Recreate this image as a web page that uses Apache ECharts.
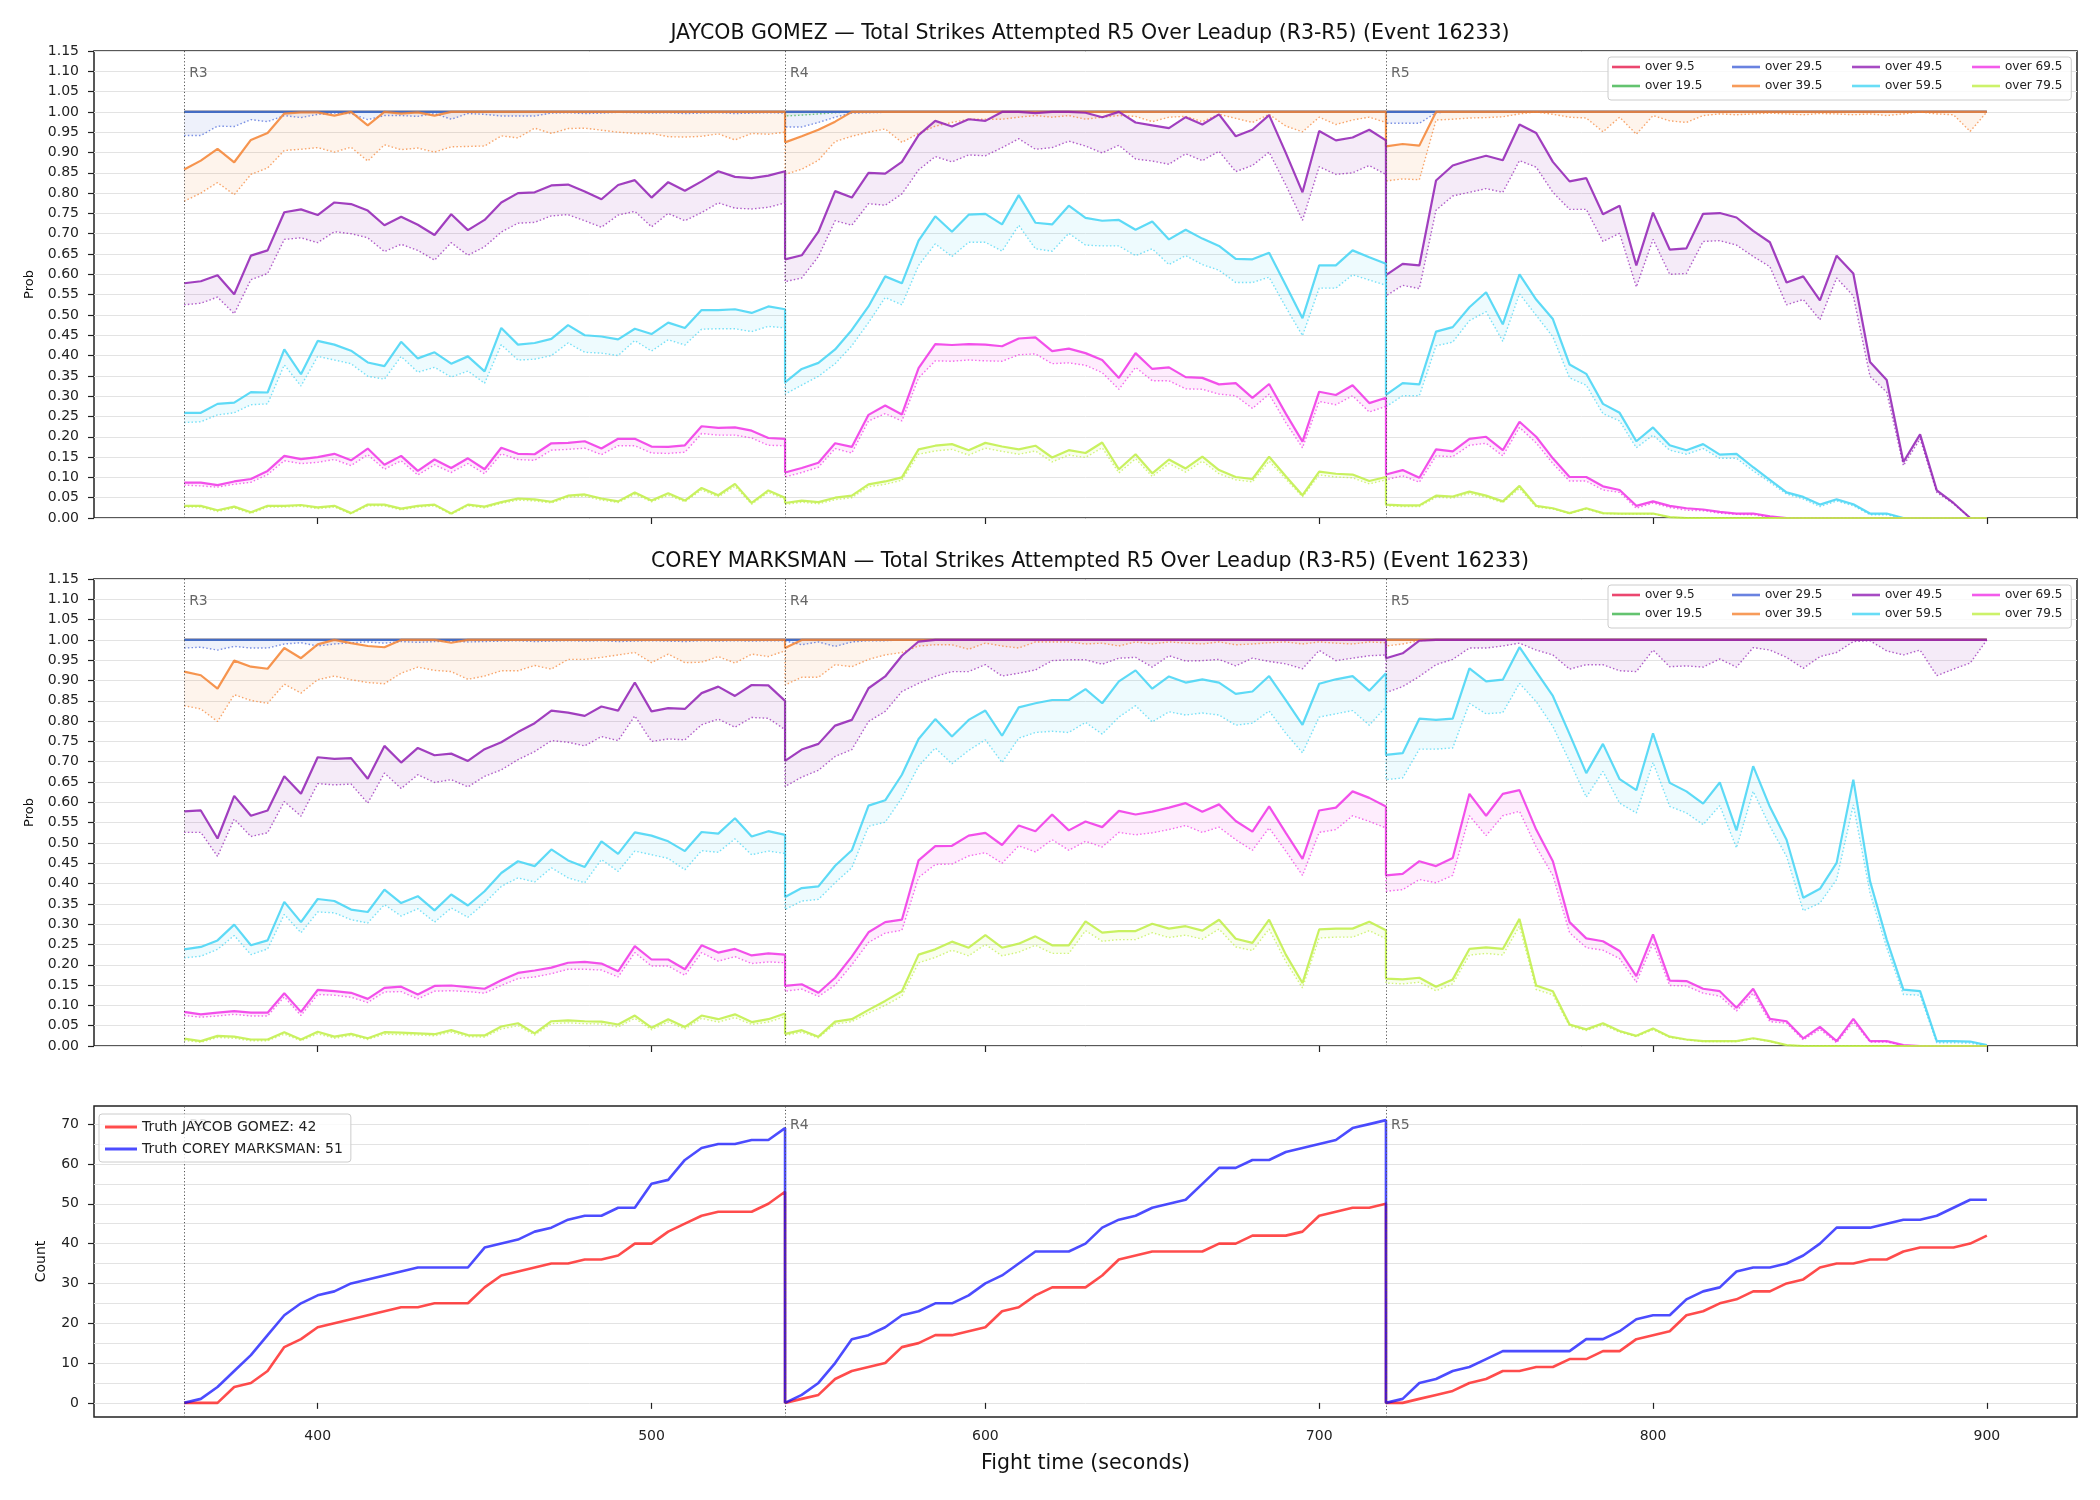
<!DOCTYPE html>
<html><head><meta charset="utf-8">
<script src="https://cdn.jsdelivr.net/npm/echarts@6/dist/echarts.min.js"></script>
<style>html,body{margin:0;padding:0;background:#fff}#c{width:2100px;height:1500px}</style>
</head><body><div id="c"></div><script>
// ---------------- DATA ----------------
const T_R3 = [360,365,370,375,380,385,390,395,400,405,410,415,420,425,430,435,440,445,450,455,460,465,470,475,480,485,490,495,500,505,510,515,520,525,530,535,540];
const T_R4 = [540,545,550,555,560,565,570,575,580,585,590,595,600,605,610,615,620,625,630,635,640,645,650,655,660,665,670,675,680,685,690,695,700,705,710,715,720];
const T_R5 = [720,725,730,735,740,745,750,755,760,765,770,775,780,785,790,795,800,805,810,815,820,825,830,835,840,845,850,855,860,865,870,875,880,885,890,895,900];
const TIME = [...T_R3, ...T_R4, ...T_R5];
const ROUND_STARTS = [360, 540, 720];
const ROUND_LABELS = ['R3', 'R4', 'R5'];
const X_TICKS = [400, 500, 600, 700, 800, 900];
const COUNT_TICKS = [0, 10, 20, 30, 40, 50, 60, 70];
const COUNT_GRID = [0, 5, 10, 15, 20, 25, 30, 35, 40, 45, 50, 55, 60, 65, 70];
const THRESHOLDS = ['over 9.5','over 19.5','over 29.5','over 39.5','over 49.5','over 59.5','over 69.5','over 79.5'];
const ONES = [1,1,1,1,1, 1,1,1,1,1, 1,1,1,1,1, 1,1,1,1,1, 1,1,1,1,1, 1,1,1,1,1, 1,1,1,1,1, 1,1];

// ---- JAYCOB GOMEZ ----
const gomez_over9_solid = [...ONES, ...ONES, ...ONES];
const gomez_over9_lower = [...ONES, ...ONES, ...ONES];
const gomez_over19_solid = [...ONES, ...ONES, ...ONES];
const gomez_over19_lower = [...ONES, 0.990,0.992,0.995,0.998, ...ONES.slice(4), ...ONES];
const gomez_over29_solid = [...ONES, ...ONES, ...ONES];
const gomez_over29_lower = [
  0.942,0.942,0.965,0.964,0.981, 0.976,0.991,0.986,0.994,0.997, 0.996,0.981,0.991,0.991,0.989, 0.996,0.982,0.996,0.994,0.990, 0.990,0.990,0.997,0.998,0.996, 0.997,0.999,0.998,0.997,0.998, 0.996,0.997,0.998,0.996,0.997, 0.998,0.997,
  0.963,0.963,0.974,0.987,0.997,0.998,0.999,0.999, ...ONES.slice(8),
  0.972,0.972,0.972,0.998, ...ONES.slice(4)];
const gomez_over39_solid = [
  0.858,0.880,0.909,0.876,0.931, 0.948,0.996,0.999,0.999,0.991, 1,0.967,1,0.996,0.999, 0.991, ...ONES.slice(16),
  0.925,0.940,0.956,0.976, ...ONES.slice(4),
  0.915,0.921,0.917, ...ONES.slice(3)];
const gomez_over39_lower = [
  0.780,0.800,0.826,0.796,0.846, 0.862,0.905,0.908,0.912,0.901, 0.913,0.879,0.919,0.907,0.911, 0.901,0.914,0.915,0.916,0.941, 0.936,0.960,0.947,0.959,0.960, 0.955,0.950,0.947,0.947,0.939, 0.938,0.940,0.946,0.931,0.947, 0.945,0.950,
  0.846,0.859,0.881,0.927,0.940, 0.950,0.958,0.925,0.947,0.965, 0.974,0.982,0.982,0.982,0.987, 0.991,0.987,0.991,0.982,0.987, 0.991,0.989,0.976,0.987,0.989, 0.976,0.994,0.984,0.974,0.994, 0.965,0.951,0.987,0.969,0.980, 0.987,0.974,
  0.830,0.835,0.833,0.980,0.982, 0.985,0.986,0.988,0.995,1, 0.994,0.987,0.985,0.951,0.987, 0.945,0.991,0.978,0.974,0.991, 0.995,0.993,0.995,0.997,0.995, 0.993,0.996,0.995,0.993,0.995, 0.991,0.995,1,0.995,0.993, 0.952,1];
const gomez_over49_solid = [
  0.578,0.583,0.598,0.551,0.646, 0.659,0.753,0.760,0.746,0.777, 0.773,0.757,0.721,0.742,0.722, 0.697,0.748,0.709,0.734,0.777, 0.800,0.802,0.819,0.821,0.804, 0.785,0.820,0.832,0.789,0.827, 0.806,0.829,0.854,0.840,0.837, 0.843,0.854,
  0.637,0.647,0.705,0.805,0.789, 0.850,0.848,0.877,0.943,0.978, 0.964,0.982,0.978,1,1, 0.997,1,1,0.998,0.987, 1,0.974,0.967,0.960,0.987, 0.969,0.994,0.940,0.956,0.992, 0.899,0.802,0.953,0.930,0.937, 0.956,0.930,
  0.598,0.626,0.622,0.831,0.868, 0.881,0.892,0.881,0.969,0.948, 0.877,0.829,0.837,0.748,0.769, 0.622,0.752,0.661,0.664,0.749, 0.751,0.740,0.707,0.679,0.580, 0.595,0.536,0.646,0.602,0.384, 0.340,0.138,0.206,0.068,0.037, 0,0];
const gomez_over49_lower = [
  0.525,0.529,0.544,0.503,0.587, 0.602,0.686,0.690,0.678,0.705, 0.700,0.690,0.656,0.674,0.659, 0.635,0.678,0.647,0.668,0.704, 0.726,0.728,0.744,0.747,0.732, 0.716,0.746,0.755,0.717,0.750, 0.732,0.752,0.776,0.763,0.761, 0.765,0.776,
  0.582,0.591,0.644,0.732,0.721, 0.774,0.770,0.798,0.857,0.890, 0.877,0.894,0.892,0.912,0.934, 0.908,0.912,0.928,0.916,0.899, 0.918,0.884,0.879,0.871,0.897, 0.880,0.903,0.853,0.868,0.901, 0.820,0.733,0.865,0.846,0.850, 0.868,0.846,
  0.547,0.573,0.565,0.758,0.793, 0.802,0.811,0.802,0.880,0.864, 0.802,0.760,0.760,0.681,0.701, 0.569,0.686,0.600,0.602,0.681, 0.683,0.672,0.644,0.619,0.525, 0.538,0.488,0.591,0.547,0.349, 0.310,0.129,0.195,0.063,0.035, 0,0];
const gomez_over59_solid = [
  0.259,0.259,0.281,0.284,0.310, 0.309,0.415,0.354,0.436,0.427, 0.412,0.383,0.374,0.434,0.393, 0.408,0.380,0.398,0.361,0.468, 0.427,0.431,0.441,0.475,0.450, 0.447,0.440,0.466,0.453,0.481, 0.468,0.512,0.512,0.514,0.505, 0.521,0.514,
  0.334,0.367,0.382,0.415,0.463, 0.521,0.595,0.578,0.683,0.743, 0.705,0.747,0.749,0.723,0.795, 0.727,0.723,0.769,0.739,0.732, 0.734,0.710,0.730,0.686,0.710, 0.688,0.670,0.638,0.637,0.653, 0.573,0.492,0.622,0.622,0.659, 0.642,0.626,
  0.303,0.332,0.329,0.459,0.470, 0.519,0.556,0.477,0.600,0.538, 0.490,0.378,0.355,0.281,0.259, 0.189,0.223,0.179,0.167,0.182, 0.156,0.158,0.125,0.094,0.063, 0.052,0.033,0.046,0.034,0.011, 0.011,0,0,0,0, 0,0];
const gomez_over59_lower = [
  0.235,0.237,0.254,0.259,0.279, 0.281,0.377,0.325,0.398,0.389, 0.380,0.349,0.342,0.398,0.359, 0.371,0.347,0.362,0.332,0.427, 0.389,0.391,0.400,0.431,0.408, 0.406,0.400,0.437,0.411,0.439, 0.426,0.465,0.466,0.466,0.459, 0.472,0.468,
  0.305,0.327,0.349,0.380,0.424, 0.481,0.543,0.525,0.622,0.675, 0.644,0.679,0.679,0.657,0.721, 0.663,0.657,0.701,0.672,0.670, 0.670,0.646,0.663,0.624,0.646, 0.624,0.610,0.580,0.580,0.593, 0.519,0.449,0.566,0.566,0.599, 0.586,0.573,
  0.274,0.301,0.301,0.424,0.433, 0.486,0.508,0.435,0.552,0.499, 0.446,0.345,0.327,0.257,0.239, 0.173,0.204,0.167,0.157,0.171, 0.147,0.147,0.116,0.088,0.059, 0.047,0.028,0.042,0.030,0.008, 0.008,0,0,0,0, 0,0];
const gomez_over69_solid = [
  0.087,0.087,0.081,0.090,0.096, 0.116,0.153,0.145,0.150,0.158, 0.142,0.171,0.131,0.153,0.116, 0.144,0.123,0.147,0.120,0.173, 0.158,0.157,0.184,0.185,0.189, 0.171,0.195,0.195,0.176,0.175, 0.179,0.226,0.222,0.223,0.215, 0.197,0.195,
  0.112,0.123,0.136,0.184,0.175, 0.254,0.277,0.255,0.369,0.428, 0.426,0.428,0.427,0.423,0.442, 0.445,0.411,0.417,0.406,0.389, 0.345,0.406,0.367,0.371,0.347, 0.345,0.329,0.332,0.296,0.330, 0.257,0.188,0.311,0.303,0.327, 0.283,0.296,
  0.107,0.118,0.099,0.169,0.164, 0.195,0.200,0.167,0.237,0.200, 0.147,0.101,0.101,0.078,0.069, 0.030,0.041,0.030,0.024,0.021, 0.015,0.011,0.011,0.004,0, 0,0,0,0,0, 0,0,0,0,0, 0,0];
const gomez_over69_lower = [
  0.081,0.079,0.076,0.083,0.088, 0.107,0.141,0.134,0.137,0.144, 0.129,0.156,0.120,0.141,0.106, 0.131,0.112,0.134,0.109,0.158, 0.144,0.142,0.167,0.169,0.172, 0.156,0.178,0.178,0.160,0.159, 0.162,0.208,0.204,0.204,0.197, 0.179,0.178,
  0.101,0.112,0.125,0.171,0.160, 0.239,0.257,0.239,0.345,0.387, 0.386,0.389,0.387,0.386,0.402, 0.404,0.380,0.382,0.376,0.358, 0.317,0.371,0.338,0.338,0.318, 0.317,0.305,0.301,0.270,0.305, 0.235,0.173,0.287,0.279,0.301, 0.261,0.275,
  0.094,0.104,0.088,0.153,0.151, 0.179,0.184,0.153,0.223,0.185, 0.134,0.091,0.091,0.069,0.063, 0.024,0.037,0.026,0.019,0.018, 0.012,0.009,0.008,0.002,0, 0,0,0,0,0, 0,0,0,0,0, 0,0];
const gomez_over79_solid = [
  0.030,0.030,0.019,0.028,0.014, 0.030,0.030,0.032,0.026,0.030, 0.012,0.033,0.033,0.023,0.030, 0.033,0.011,0.033,0.028,0.039, 0.048,0.046,0.040,0.055,0.058, 0.048,0.041,0.063,0.043,0.061, 0.043,0.074,0.056,0.084,0.037, 0.068,0.050,
  0.037,0.043,0.039,0.050,0.055, 0.083,0.090,0.100,0.169,0.178, 0.182,0.167,0.185,0.176,0.169, 0.178,0.149,0.167,0.160,0.186, 0.120,0.157,0.110,0.144,0.122, 0.151,0.118,0.101,0.096,0.151, 0.103,0.056,0.114,0.109,0.107, 0.091,0.101,
  0.033,0.031,0.031,0.055,0.053, 0.065,0.055,0.041,0.079,0.030, 0.024,0.012,0.024,0.012,0.011, 0.011,0.011,0.002,0,0, 0,0,0,0,0, 0,0,0,0,0, 0,0,0,0,0, 0,0];
const gomez_over79_lower = [
  0.027,0.027,0.016,0.025,0.011, 0.027,0.027,0.029,0.023,0.027, 0.010,0.030,0.030,0.020,0.027, 0.030,0.009,0.030,0.025,0.036, 0.044,0.042,0.037,0.051,0.054, 0.044,0.038,0.058,0.040,0.056, 0.040,0.069,0.052,0.078,0.034, 0.063,0.046,
  0.033,0.039,0.035,0.045,0.050, 0.077,0.083,0.093,0.157,0.165, 0.169,0.155,0.172,0.164,0.157, 0.165,0.138,0.155,0.149,0.173, 0.111,0.146,0.102,0.134,0.113, 0.140,0.109,0.094,0.089,0.140, 0.096,0.052,0.106,0.101,0.099, 0.084,0.094,
  0.030,0.028,0.028,0.051,0.049, 0.060,0.051,0.038,0.073,0.027, 0.022,0.011,0.022,0.011,0.010, 0.010,0.010,0.002,0,0, 0,0,0,0,0, 0,0,0,0,0, 0,0,0,0,0, 0,0];

// ---- COREY MARKSMAN ----
const marksman_over9_solid = [...ONES, ...ONES, ...ONES];
const marksman_over9_lower = [...ONES, ...ONES, ...ONES];
const marksman_over19_solid = [...ONES, ...ONES, ...ONES];
const marksman_over19_lower = [...ONES, ...ONES, ...ONES];
const marksman_over29_solid = [...ONES, ...ONES, ...ONES];
const marksman_over29_lower = [
  0.980,0.982,0.975,0.984,0.980, 0.980,0.990,0.993,0.985,0.990, 0.993,0.995,0.992,0.996,0.994, 0.996,0.997,0.995,0.996,0.997, 0.998,0.996,0.997,0.998,0.997, 0.998,0.996,0.997,0.998,0.997, 0.996,0.998,0.997,0.998,0.997, 0.998,0.998,
  0.995,0.988,0.995,0.984,0.995,0.998,0.998, ...ONES.slice(7),
  ...ONES];
const marksman_over39_solid = [
  0.922,0.913,0.880,0.949,0.934, 0.929,0.980,0.955,0.989,1, 0.992,0.985,0.982,1,1, 1,0.993, ...ONES.slice(17),
  0.980, ...ONES.slice(1),
  ...ONES];
const marksman_over39_lower = [
  0.838,0.830,0.799,0.865,0.851, 0.844,0.891,0.869,0.902,0.911, 0.902,0.895,0.892,0.918,0.933, 0.925,0.922,0.903,0.911,0.924, 0.924,0.937,0.928,0.952,0.952, 0.957,0.963,0.969,0.944,0.965, 0.944,0.945,0.959,0.943,0.965, 0.959,0.973,
  0.889,0.908,0.908,0.939,0.934, 0.952,0.963,0.969,0.985,0.988, 0.988,0.977,0.992,0.985,0.980, 0.995,0.995,0.995,0.990,0.992, 0.985,0.995,0.990,0.995,0.992, 0.990,0.995,0.988,0.990,0.993, 0.995,0.990,0.995,0.992,0.990, 0.995,0.993,
  0.985,0.990,0.998, ...ONES.slice(3)];
const marksman_over49_solid = [
  0.578,0.580,0.511,0.616,0.567, 0.580,0.664,0.621,0.711,0.707, 0.709,0.658,0.739,0.698,0.734, 0.716,0.720,0.702,0.731,0.748, 0.773,0.795,0.826,0.821,0.813, 0.836,0.826,0.895,0.824,0.832, 0.830,0.869,0.885,0.862,0.889, 0.888,0.850,
  0.702,0.730,0.744,0.789,0.803, 0.881,0.910,0.961,0.996, ...ONES.slice(9),
  0.955,0.967,0.998, ...ONES.slice(3)];
const marksman_over49_lower = [
  0.526,0.526,0.467,0.559,0.516, 0.525,0.602,0.566,0.646,0.643, 0.645,0.598,0.672,0.634,0.668, 0.649,0.656,0.638,0.664,0.680, 0.705,0.725,0.752,0.748,0.739, 0.762,0.752,0.813,0.750,0.756, 0.754,0.791,0.805,0.785,0.809, 0.807,0.779,
  0.639,0.662,0.679,0.713,0.730, 0.799,0.824,0.873,0.893,0.910, 0.922,0.922,0.939,0.911,0.918, 0.926,0.949,0.951,0.951,0.940, 0.955,0.957,0.933,0.961,0.948, 0.949,0.952,0.936,0.955,0.947, 0.941,0.929,0.974,0.949,0.955, 0.961,0.963,
  0.870,0.885,0.910,0.939,0.952, 0.980,0.980,0.985,0.992,0.975, 0.963,0.928,0.939,0.939,0.924, 0.922,0.975,0.934,0.936,0.933, 0.953,0.933,0.981,0.975,0.957, 0.930,0.959,0.969,0.996,0.998, 0.973,0.963,0.975,0.912,0.928, 0.943,1];
const marksman_over59_solid = [
  0.238,0.244,0.260,0.299,0.248, 0.260,0.355,0.305,0.362,0.357, 0.336,0.330,0.385,0.352,0.369, 0.334,0.373,0.346,0.381,0.426, 0.455,0.443,0.484,0.457,0.441, 0.504,0.473,0.526,0.518,0.504, 0.480,0.527,0.523,0.561,0.516, 0.529,0.520,
  0.367,0.389,0.393,0.444,0.482, 0.592,0.605,0.668,0.756,0.805, 0.762,0.803,0.826,0.764,0.834, 0.844,0.852,0.852,0.879,0.844, 0.898,0.925,0.880,0.910,0.895, 0.903,0.895,0.867,0.873,0.911, 0.852,0.791,0.892,0.903,0.911, 0.875,0.918,
  0.717,0.721,0.806,0.803,0.806, 0.930,0.898,0.902,0.982,0.922, 0.862,0.768,0.672,0.744,0.657, 0.630,0.770,0.648,0.627,0.597, 0.649,0.531,0.689,0.589,0.508, 0.365,0.387,0.451,0.656,0.406, 0.262,0.139,0.135,0.012,0.012, 0.011,0.002];
const marksman_over59_lower = [
  0.217,0.221,0.238,0.272,0.225, 0.239,0.324,0.279,0.330,0.328, 0.311,0.303,0.348,0.320,0.338, 0.305,0.340,0.317,0.352,0.393, 0.414,0.404,0.439,0.414,0.402, 0.459,0.430,0.480,0.471,0.462, 0.434,0.481,0.477,0.510,0.471, 0.480,0.474,
  0.336,0.357,0.361,0.402,0.439, 0.541,0.551,0.611,0.689,0.734, 0.695,0.728,0.754,0.698,0.758, 0.772,0.775,0.772,0.797,0.768, 0.810,0.838,0.798,0.823,0.815, 0.820,0.815,0.790,0.795,0.825, 0.770,0.722,0.810,0.818,0.826, 0.790,0.835,
  0.656,0.660,0.731,0.731,0.734, 0.844,0.818,0.821,0.893,0.848, 0.787,0.701,0.613,0.676,0.598, 0.574,0.698,0.590,0.574,0.545, 0.592,0.488,0.627,0.541,0.467, 0.333,0.352,0.410,0.594,0.377, 0.242,0.127,0.125,0.008,0.008, 0.007,0];
const marksman_over69_solid = [
  0.084,0.078,0.082,0.086,0.082, 0.082,0.130,0.084,0.138,0.135, 0.131,0.116,0.143,0.146,0.127, 0.148,0.149,0.145,0.141,0.162, 0.180,0.186,0.193,0.205,0.207, 0.203,0.184,0.246,0.213,0.213, 0.189,0.248,0.230,0.239,0.223, 0.228,0.225,
  0.148,0.152,0.131,0.168,0.220, 0.280,0.305,0.311,0.457,0.492, 0.493,0.518,0.525,0.495,0.543, 0.529,0.570,0.531,0.553,0.539, 0.579,0.570,0.577,0.587,0.598, 0.577,0.595,0.554,0.528,0.590, 0.525,0.461,0.580,0.587,0.627, 0.611,0.590,
  0.420,0.424,0.455,0.443,0.463, 0.621,0.567,0.621,0.630,0.533, 0.455,0.305,0.265,0.258,0.234, 0.172,0.275,0.161,0.160,0.141, 0.135,0.094,0.141,0.067,0.061, 0.019,0.047,0.012,0.067,0.012, 0.012,0.002,0,0,0, 0,0];
const marksman_over69_lower = [
  0.075,0.071,0.074,0.078,0.074, 0.074,0.121,0.075,0.127,0.125, 0.120,0.107,0.133,0.134,0.116, 0.135,0.136,0.134,0.130,0.149, 0.166,0.170,0.178,0.189,0.189, 0.187,0.170,0.230,0.197,0.197, 0.174,0.230,0.209,0.220,0.203, 0.207,0.205,
  0.135,0.140,0.122,0.150,0.200, 0.255,0.278,0.285,0.415,0.447, 0.448,0.468,0.476,0.450,0.493, 0.478,0.508,0.482,0.504,0.490, 0.526,0.520,0.525,0.533,0.543, 0.526,0.539,0.508,0.482,0.537, 0.480,0.420,0.526,0.533,0.567, 0.553,0.537,
  0.381,0.385,0.410,0.402,0.420, 0.567,0.518,0.567,0.578,0.490, 0.420,0.279,0.242,0.236,0.215, 0.157,0.254,0.149,0.148,0.130, 0.123,0.086,0.130,0.060,0.056, 0.015,0.041,0.008,0.059,0.010, 0.010,0.001,0,0,0, 0,0];
const marksman_over79_solid = [
  0.018,0.012,0.025,0.023,0.016, 0.016,0.034,0.016,0.035,0.023, 0.030,0.019,0.034,0.033,0.031, 0.029,0.039,0.027,0.026,0.048, 0.056,0.031,0.061,0.063,0.061, 0.060,0.053,0.075,0.045,0.066, 0.047,0.075,0.066,0.078,0.059, 0.066,0.080,
  0.030,0.039,0.023,0.060,0.066, 0.089,0.111,0.135,0.225,0.238, 0.257,0.242,0.273,0.242,0.252, 0.270,0.248,0.248,0.307,0.279, 0.283,0.283,0.301,0.289,0.295, 0.284,0.311,0.264,0.254,0.311, 0.225,0.155,0.287,0.289,0.289, 0.306,0.285,
  0.166,0.164,0.168,0.146,0.164, 0.239,0.243,0.239,0.313,0.149, 0.135,0.053,0.041,0.056,0.037, 0.025,0.043,0.023,0.016,0.012, 0.012,0.012,0.019,0.012,0.002, 0,0,0,0,0, 0,0,0,0,0, 0,0];
const marksman_over79_lower = [
  0.014,0.009,0.021,0.019,0.013, 0.013,0.029,0.013,0.030,0.019, 0.026,0.016,0.029,0.028,0.027, 0.025,0.034,0.023,0.022,0.042, 0.050,0.027,0.055,0.057,0.055, 0.054,0.047,0.068,0.040,0.059, 0.042,0.068,0.059,0.070,0.053, 0.059,0.072,
  0.026,0.034,0.020,0.054,0.060, 0.081,0.100,0.123,0.205,0.218, 0.236,0.222,0.250,0.222,0.231, 0.248,0.228,0.228,0.284,0.258, 0.262,0.262,0.279,0.267,0.273, 0.263,0.288,0.244,0.235,0.288, 0.208,0.143,0.266,0.268,0.268, 0.284,0.264,
  0.155,0.153,0.157,0.136,0.153, 0.224,0.228,0.224,0.295,0.139, 0.126,0.049,0.038,0.052,0.034, 0.023,0.040,0.021,0.015,0.011, 0.011,0.011,0.018,0.011,0.002, 0,0,0,0,0, 0,0,0,0,0, 0,0];

// ---- Truth counts ----
const truth_gomez = [
  0,0,0,4,5, 8,14,16,19,20, 21,22,23,24,24, 25,25,25,29,32, 33,34,35,35,36, 36,37,40,40,43, 45,47,48,48,48, 50,53,
  0,1,2,6,8, 9,10,14,15,17, 17,18,19,23,24, 27,29,29,29,32, 36,37,38,38,38, 38,40,40,42,42, 42,43,47,48,49, 49,50,
  0,0,1,2,3, 5,6,8,8,9, 9,11,11,13,13, 16,17,18,22,23, 25,26,28,28,30, 31,34,35,35,36, 36,38,39,39,39, 40,42];
const truth_marksman = [
  0,1,4,8,12, 17,22,25,27,28, 30,31,32,33,34, 34,34,34,39,40, 41,43,44,46,47, 47,49,49,55,56, 61,64,65,65,66, 66,69,
  0,2,5,10,16, 17,19,22,23,25, 25,27,30,32,35, 38,38,38,40,44, 46,47,49,50,51, 55,59,59,61,61, 63,64,65,66,69, 70,71,
  0,1,5,6,8, 9,11,13,13,13, 13,13,16,16,18, 21,22,22,26,28, 29,33,34,34,35, 37,40,44,44,44, 45,46,46,47,49, 51,51];

// ---------------- STYLE ----------------
const COLORS = ['#e6194b','#3cb44b','#4363d8','#f58231','#911eb4','#42d4f4','#f032e6','#bfef45'];
const FONT = 'DejaVu Sans';
function rgba(hex, a) { const n = parseInt(hex.slice(1), 16); return 'rgba(' + (n >> 16) + ',' + ((n >> 8) & 255) + ',' + (n & 255) + ',' + a + ')'; }

const gomezSolid = [gomez_over9_solid,gomez_over19_solid,gomez_over29_solid,gomez_over39_solid,gomez_over49_solid,gomez_over59_solid,gomez_over69_solid,gomez_over79_solid];
const gomezLower = [gomez_over9_lower,gomez_over19_lower,gomez_over29_lower,gomez_over39_lower,gomez_over49_lower,gomez_over59_lower,gomez_over69_lower,gomez_over79_lower];
const marksSolid = [marksman_over9_solid,marksman_over19_solid,marksman_over29_solid,marksman_over39_solid,marksman_over49_solid,marksman_over59_solid,marksman_over69_solid,marksman_over79_solid];
const marksLower = [marksman_over9_lower,marksman_over19_lower,marksman_over29_lower,marksman_over39_lower,marksman_over49_lower,marksman_over59_lower,marksman_over69_lower,marksman_over79_lower];
[...gomezSolid, ...gomezLower, ...marksSolid, ...marksLower, truth_gomez, truth_marksman].forEach((a, i) => {
  if (a.length !== TIME.length) throw new Error('array ' + i + ' has length ' + a.length);
});

const series = [];
for (let g = 0; g < 3; g++) {
  series.push({
    type: 'line', xAxisIndex: g, yAxisIndex: g, data: [], silent: true, animation: false,
    markLine: {
      silent: true, animation: false, symbol: ['none', 'none'], label: { show: false },
      lineStyle: { type: [1.2, 2.2], color: '#555', width: 1 },
      data: ROUND_STARTS.map(x => ({ xAxis: x }))
    },
    markPoint: {
      silent: true, animation: false, symbol: 'circle', symbolSize: 0, z: 1,
      data: ROUND_STARTS.map((x, i) => ({ coord: [x, g < 2 ? 1.095 : 69.8], value: ROUND_LABELS[i] })),
      label: { show: true, position: 'right', distance: 5, formatter: p => p.value, color: '#666', fontSize: 14, fontFamily: FONT }
    }
  });
}
function addBands(g, solids, lowers) {
  THRESHOLDS.forEach((name, k) => {
    const hi = solids[k], lo = lowers[k], c = COLORS[k];
    // shaded band between the solid and dotted lines
    series.push({
      type: 'custom', xAxisIndex: g, yAxisIndex: g, silent: true, clip: true,
      data: [[TIME[0], hi[0]]],
      renderItem: (params, api) => {
        const pts = [];
        for (let i = 0; i < TIME.length; i++) pts.push(api.coord([TIME[i], hi[i]]));
        for (let i = TIME.length - 1; i >= 0; i--) pts.push(api.coord([TIME[i], lo[i]]));
        return { type: 'polygon', shape: { points: pts }, style: { fill: rgba(c, 0.09), stroke: null } };
      }
    });
    series.push({
      type: 'line', name: name + ' lower', xAxisIndex: g, yAxisIndex: g, symbol: 'none', silent: true,
      data: TIME.map((t, i) => [t, lo[i]]), color: c,
      lineStyle: { type: [1.5, 2.2], width: 1.4, color: c, opacity: 0.7 }
    });
    series.push({
      type: 'line', name: name, xAxisIndex: g, yAxisIndex: g, symbol: 'none', silent: true,
      data: TIME.map((t, i) => [t, hi[i]]), color: c, itemStyle: { color: c },
      lineStyle: { width: 2.2, color: c, opacity: 0.85 }
    });
  });
}
addBands(0, gomezSolid, gomezLower);
addBands(1, marksSolid, marksLower);
const truthNameG = 'Truth JAYCOB GOMEZ: ' + truth_gomez[truth_gomez.length - 1];
const truthNameM = 'Truth COREY MARKSMAN: ' + truth_marksman[truth_marksman.length - 1];
series.push({ type: 'line', name: truthNameG, xAxisIndex: 2, yAxisIndex: 2, symbol: 'none', silent: true,
  data: TIME.map((t, i) => [t, truth_gomez[i]]), color: '#ff0000', itemStyle: { color: '#ff0000' }, lineStyle: { width: 2.6, color: '#ff0000', opacity: 0.7 } });
series.push({ type: 'line', name: truthNameM, xAxisIndex: 2, yAxisIndex: 2, symbol: 'none', silent: true,
  data: TIME.map((t, i) => [t, truth_marksman[i]]), color: '#0000ff', itemStyle: { color: '#0000ff' }, lineStyle: { width: 2.6, color: '#0000ff', opacity: 0.7 } });

const GRIDS = [
  { left: 94, top: 51, width: 1983, height: 467 },
  { left: 94, top: 579, width: 1983, height: 467 },
  { left: 94, top: 1106, width: 1983, height: 311 }
].map(g => Object.assign(g, { show: true, borderColor: '#222', borderWidth: 1.5, backgroundColor: 'transparent', containLabel: false }));

const xAxes = [0, 1, 2].map(g => ({
  type: 'value', gridIndex: g, min: 333, max: 927,
  axisLine: { show: false }, splitLine: { show: false },
  axisTick: { show: true, customValues: X_TICKS, length: 6, lineStyle: { color: '#222', width: 1.2 } },
  axisLabel: { show: g === 2, customValues: X_TICKS, fontSize: 14, color: '#222', margin: 12, fontFamily: FONT },
  name: g === 2 ? 'Fight time (seconds)' : '', nameLocation: 'middle', nameGap: 36,
  nameTextStyle: { fontSize: 20.5, color: '#111', fontFamily: FONT }
}));
const probAxis = g => ({
  type: 'value', gridIndex: g, min: 0, max: 1.15, interval: 0.05,
  axisLine: { show: false },
  axisTick: { show: true, length: 6, lineStyle: { color: '#222', width: 1.2 } },
  axisLabel: { fontSize: 14, color: '#222', margin: 15, fontFamily: FONT, formatter: v => v.toFixed(2) },
  splitLine: { show: true, lineStyle: { color: '#e3e3e3', width: 1 } },
  name: 'Prob', nameLocation: 'middle', nameRotate: 90, nameGap: 58,
  nameTextStyle: { fontSize: 13, color: '#111', fontFamily: FONT }
});
const yAxes = [
  probAxis(0), probAxis(1),
  {
    type: 'value', gridIndex: 2, min: -3.55, max: 74.55, position: 'left',
    axisLine: { show: false },
    axisTick: { show: false, customValues: COUNT_GRID },
    axisLabel: { customValues: COUNT_TICKS, fontSize: 14, color: '#222', margin: 15, fontFamily: FONT },
    splitLine: { show: true, lineStyle: { color: '#e3e3e3', width: 1 } },
    name: 'Count', nameLocation: 'middle', nameRotate: 90, nameGap: 46,
    nameTextStyle: { fontSize: 14, color: '#111', fontFamily: FONT }
  },
  {
    type: 'value', gridIndex: 2, min: -3.55, max: 74.55, position: 'left', offset: 0,
    axisLine: { show: false },
    axisTick: { show: true, customValues: COUNT_TICKS, length: 6, lineStyle: { color: '#222', width: 1.2 } },
    axisLabel: { show: false }, splitLine: { show: false }
  }
];

const LEGEND_COLS = [['over 9.5','over 19.5'],['over 29.5','over 39.5'],['over 49.5','over 59.5'],['over 69.5','over 79.5']];
const legends = [];
[51, 579].forEach(gTop => {
  LEGEND_COLS.forEach((cols, j) => {
    legends.push({
      data: cols, orient: 'vertical', selectedMode: false, z: 20,
      left: j === 0 ? 1608 : 1612 + 120 * j, top: j === 0 ? gTop + 6 : gTop + 10,
      padding: j === 0 ? [4, 369, 8, 4] : 0,
      icon: 'rect', itemWidth: 28, itemHeight: 2.6, itemGap: 7,
      itemStyle: { opacity: 0.8 },
      backgroundColor: j === 0 ? 'rgba(255,255,255,0.8)' : 'transparent',
      borderColor: j === 0 ? '#cccccc' : 'transparent', borderWidth: j === 0 ? 1 : 0, borderRadius: 3,
      textStyle: { fontSize: 12, color: '#222', fontFamily: FONT }
    });
  });
});
legends.push({
  data: [truthNameG, truthNameM], orient: 'vertical', selectedMode: false, z: 20,
  left: 99, top: 1114, padding: [6, 8, 6, 6], icon: 'rect', itemWidth: 32, itemHeight: 3, itemGap: 8,
  itemStyle: { opacity: 0.7 },
  backgroundColor: 'rgba(255,255,255,0.8)', borderColor: '#cccccc', borderWidth: 1, borderRadius: 3,
  textStyle: { fontSize: 14, color: '#222', fontFamily: FONT }
});

const option = {
  animation: false,
  backgroundColor: '#ffffff',
  textStyle: { fontFamily: FONT },
  title: [
    { text: 'JAYCOB GOMEZ — Total Strikes Attempted R5 Over Leadup (R3-R5) (Event 16233)', left: 1085, top: 18, textAlign: 'center',
      textStyle: { fontSize: 20.5, fontWeight: 'normal', color: '#111', fontFamily: FONT } },
    { text: 'COREY MARKSMAN — Total Strikes Attempted R5 Over Leadup (R3-R5) (Event 16233)', left: 1085, top: 546, textAlign: 'center',
      textStyle: { fontSize: 20.5, fontWeight: 'normal', color: '#111', fontFamily: FONT } }
  ],
  grid: GRIDS,
  xAxis: xAxes,
  yAxis: yAxes,
  legend: legends,
  series: series
};
const chart = echarts.init(document.getElementById('c'), null, { width: 2100, height: 1500 });
chart.setOption(option);
</script></body></html>
